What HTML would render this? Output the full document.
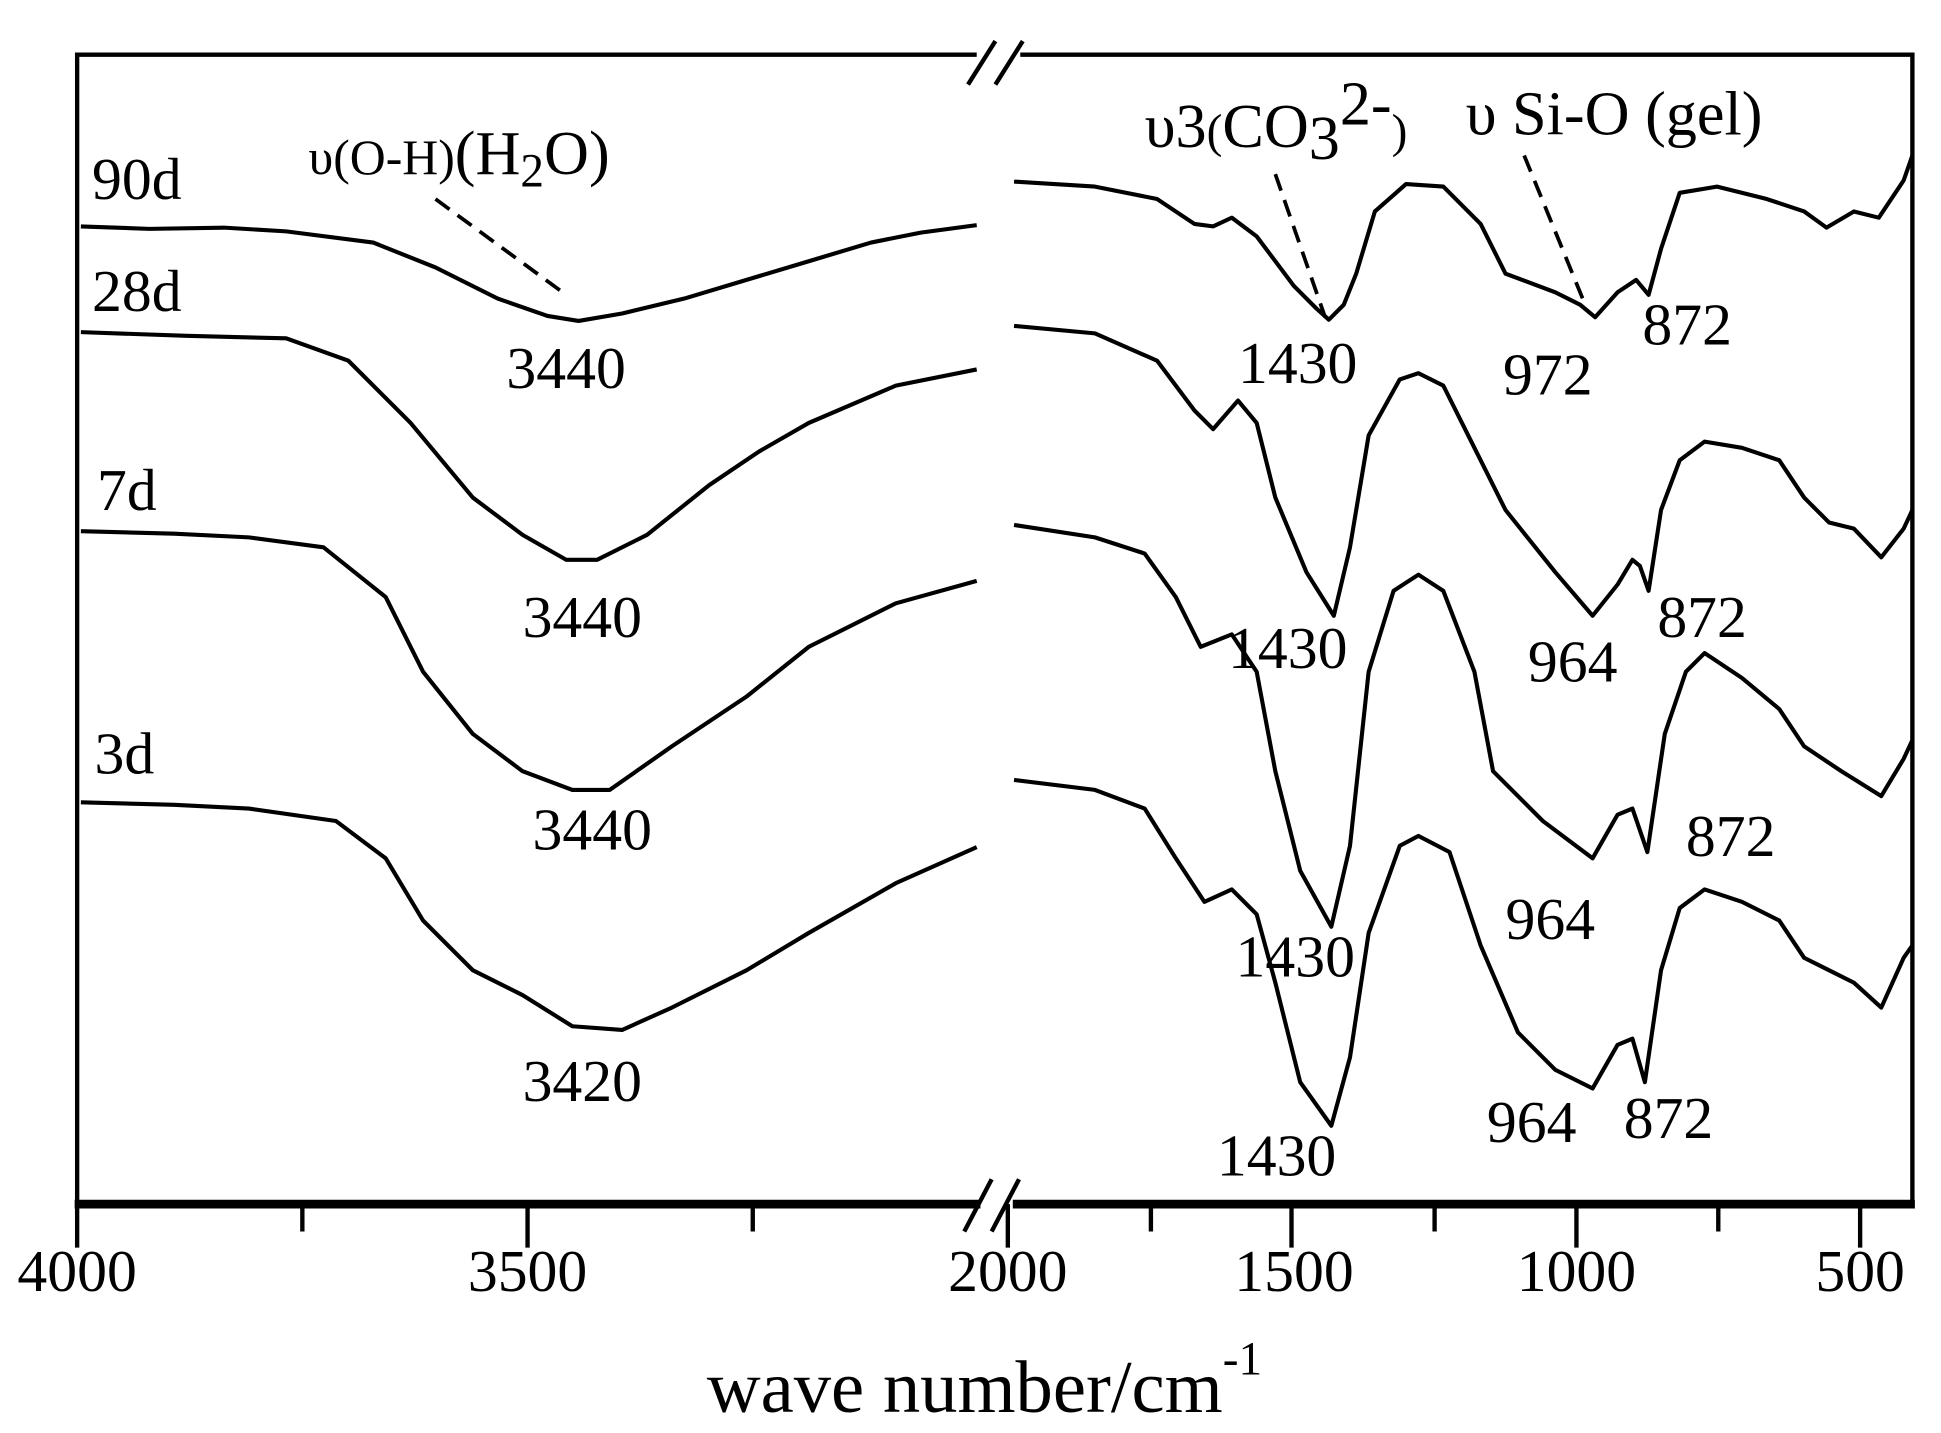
<!DOCTYPE html>
<html><head><meta charset="utf-8"><style>
html,body{margin:0;padding:0;background:#fff;}
svg{display:block;}
text{font-family:"Liberation Serif",serif;fill:#000;}
</style></head><body>
<svg width="1941" height="1433" viewBox="0 0 1560 1152" preserveAspectRatio="none" xmlns="http://www.w3.org/2000/svg">
<rect width="1560" height="1152" fill="#fff"/>
<g fill="none" stroke="#000">
<path d="M62 968 L62 44 L785 44 M820 44 L1537 44 L1537 968" stroke-width="3.5"/>
<path d="M60 968 L788 968 M814 968 L1539 968" stroke-width="7"/>
<path d="M778 68 L800 33 M800 68 L822 33" stroke-width="3.5"/>
<path d="M775 990 L797 948 M797 990 L819 948" stroke-width="3.5"/>
<g stroke-width="3.5">
<path d="M62 968V1003 M424 968V1003 M810 968V1003 M1038 968V1003 M1267 968V1003 M1495 968V1003"/>
<path d="M243 968V990 M605 968V990 M925 968V990 M1153 968V990 M1381 968V990"/>
</g>
<g stroke-width="3.3" stroke-linejoin="round">
<polyline points="65,182 120,184 180,183 230,186 300,195 350,215 400,240 440,254 465,258 500,252 550,240 600,225 650,210 700,195 740,187 785,181"/>
<polyline points="65,267 150,270 230,272 280,290 330,340 380,400 420,430 455,450 480,450 520,430 570,390 610,363 650,340 720,310 785,297"/>
<polyline points="65,427 140,429 200,432 260,440 310,480 340,540 380,590 420,620 460,635 490,635 540,600 600,560 650,520 720,485 785,467"/>
<polyline points="65,645 140,647 200,650 270,660 310,690 340,740 380,780 420,800 460,825 500,828 540,810 600,780 650,750 720,710 785,681"/>
<polyline points="815,146 880,150 930,160 960,180 975,182 990,175 1010,190 1040,230 1058,248 1068,257 1080,245 1090,220 1105,170 1130,148 1160,150 1190,180 1210,220 1250,235 1270,245 1282,255 1300,235 1315,225 1325,237 1335,200 1350,155 1380,150 1420,160 1450,170 1468,183 1490,170 1510,175 1530,145 1537,125"/>
<polyline points="815,262 880,268 930,290 960,330 975,345 995,322 1010,340 1025,400 1050,460 1072,495 1085,440 1100,350 1125,305 1140,300 1160,310 1185,360 1210,410 1250,460 1280,495 1300,470 1312,450 1318,455 1325,475 1335,410 1350,370 1370,355 1400,360 1430,370 1450,400 1470,420 1490,425 1512,448 1530,425 1537,410"/>
<polyline points="815,422 880,432 920,445 945,480 965,520 990,510 1010,540 1025,620 1045,700 1070,745 1085,680 1100,540 1120,475 1140,462 1160,475 1185,540 1200,620 1240,660 1280,690 1300,655 1312,650 1324,685 1338,590 1355,540 1370,525 1400,545 1430,570 1450,600 1480,620 1512,640 1530,610 1537,595"/>
<polyline points="815,627 880,635 920,650 945,690 968,725 990,715 1010,735 1025,790 1045,870 1070,905 1085,850 1100,750 1125,680 1140,672 1165,685 1190,760 1220,830 1250,860 1280,875 1300,840 1312,835 1322,870 1335,780 1350,730 1370,715 1400,725 1430,740 1450,770 1470,780 1490,790 1512,810 1530,770 1537,760"/>
</g>
<g stroke-width="3" stroke-dasharray="14,8">
<path d="M350 160 L455 237"/>
<path d="M1025 140 L1065 255"/>
<path d="M1225 125 L1272 240"/>
</g>
</g>
<g font-size="48">
<text x="74" y="160">90d</text>
<text x="74" y="250">28d</text>
<text x="78" y="410">7d</text>
<text x="76" y="622">3d</text>
<text x="407" y="312">3440</text>
<text x="420" y="512">3440</text>
<text x="428" y="683">3440</text>
<text x="420" y="885">3420</text>
<text x="995" y="308">1430</text>
<text x="1208" y="317">972</text>
<text x="1320" y="277">872</text>
<text x="987" y="537">1430</text>
<text x="1228" y="548">964</text>
<text x="1332" y="512">872</text>
<text x="993" y="785">1430</text>
<text x="1210" y="755">964</text>
<text x="1355" y="688">872</text>
<text x="978" y="945">1430</text>
<text x="1195" y="918">964</text>
<text x="1305" y="915">872</text>
</g>
<text x="248" y="140" font-size="40">υ(O-H)<tspan font-size="50">(H</tspan><tspan font-size="38" dy="10">2</tspan><tspan font-size="50" dy="-10">O)</tspan></text>
<text x="920" y="118" font-size="50">υ3<tspan font-size="38">(</tspan>CO<tspan dy="10">3</tspan><tspan dy="-28">2-</tspan><tspan font-size="38" dy="18">)</tspan></text>
<text x="1178" y="108" font-size="50">υ Si-O (gel)</text>
<g font-size="48" text-anchor="middle">
<text x="62" y="1038">4000</text>
<text x="424" y="1038">3500</text>
<text x="810" y="1038">2000</text>
<text x="1040" y="1038">1500</text>
<text x="1267" y="1038">1000</text>
<text x="1495" y="1038">500</text>
</g>
<text x="568" y="1135" font-size="60">wave number/cm<tspan font-size="38" dy="-30">-1</tspan></text>
</svg>
</body></html>
